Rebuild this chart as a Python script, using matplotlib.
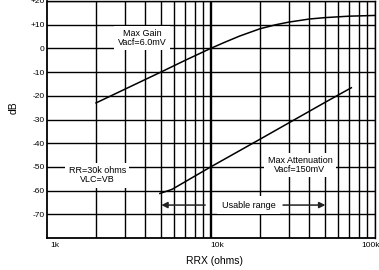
import matplotlib
matplotlib.use("Agg")
import matplotlib.pyplot as plt

plt.rcParams['font.family'] = ['Liberation Sans', 'DejaVu Sans']

# data (RRX in ohms, level in dB)
gain_rrx = [2e3, 3e3, 5e3, 7e3, 10e3, 12e3, 15e3, 20e3, 25e3, 30e3, 40e3, 50e3, 70e3, 100e3]
gain_db = [-23, -17.2, -9.9, -5.0, 0, 2.4, 5.2, 8.3, 10.0, 11.1, 12.4, 13.0, 13.6, 13.9]

att_rrx = [4.9e3, 5.8e3, 10e3, 20e3, 50e3, 72e3]
att_db = [-61.2, -59.5, -50, -38.3, -22.7, -16.6]

y_ticks = [20, 10, 0, -10, -20, -30, -40, -50, -60, -70]
y_labels = ["+20", "+10", "0", "-10", "-20", "-30", "-40", "-50", "-60", "-70"]
x_labels = ["1k", "10k", "100k"]
x_label_pos = [1.12e3, 10.9e3, 95e3]

usable_lo, usable_hi = 5e3, 50e3

fig = plt.figure(figsize=(3.79, 2.70), dpi=100)
ax = fig.add_axes([0.1232, 0.1185, 0.8655, 0.8778])
ax.set_xscale("log")
ax.set_xlim(1e3, 1e5)
ax.set_ylim(-80, 20)

# grid
minor_x = [m * d for d in (1e3, 1e4) for m in range(2, 10)]
for x in minor_x:
    ax.axvline(x, color="black", lw=1.0, zorder=1)
ax.axvline(1e4, color="black", lw=1.7, zorder=4)
ax.axvline(1e5, color="black", lw=1.0, zorder=1)
for y in range(-70, 21, 10):
    ax.axhline(y, color="black", lw=1.0, zorder=1)

# curves
ax.plot(gain_rrx, gain_db, color="black", lw=1.1, zorder=5)
ax.plot(att_rrx, att_db, color="black", lw=1.1, zorder=5)

box = dict(facecolor="white", edgecolor="none", pad=2.5)
ax.text(3.81e3, 4.4, "Max Gain\nVacf=6.0mV", ha="center", va="center",
        fontsize=6.5, linespacing=1.0, bbox=box, zorder=3)
ax.text(35e3, -49.2, "Max Attenuation\nVacf=150mV", ha="center", va="center",
        fontsize=6.5, linespacing=1.0, bbox=box, zorder=3)
ax.text(2.03e3, -53.6, "RR=30k ohms\nVLC=VB", ha="center", va="center",
        fontsize=6.5, linespacing=1.0, bbox=box, zorder=3)
ax.text(17e3, -66.1, "Usable range", ha="center", va="center",
        fontsize=6.5, bbox=dict(facecolor="white", edgecolor="none", pad=3), zorder=3)

arrow = dict(arrowstyle="-|>", color="#222222", lw=1.1, mutation_scale=9,
             shrinkA=0, shrinkB=0)
ax.annotate("", xy=(usable_lo, -66.1), xytext=(9.25e3, -66.1), arrowprops=arrow, zorder=6)
ax.annotate("", xy=(usable_hi, -66.1), xytext=(27.6e3, -66.1), arrowprops=arrow, zorder=6)

# ticks
ax.set_yticks(y_ticks)
ax.set_yticklabels(y_labels, fontsize=6)
ax.tick_params(axis="y", length=0, pad=1.5)
ax.set_xticks([])
ax.minorticks_off()
for x, lab in zip(x_label_pos, x_labels):
    ax.text(x, -0.03, lab, transform=ax.get_xaxis_transform(), ha="center",
            va="center", fontsize=6, clip_on=False)

ax.set_ylabel("dB", fontsize=7.5)
ax.yaxis.set_label_coords(-0.085, 0.55)
ax.text(10.6e3, -0.095, "RRX (ohms)", transform=ax.get_xaxis_transform(),
        ha="center", va="center", fontsize=7.5)

for s in ("left", "bottom"):
    ax.spines[s].set_linewidth(1.3)
for s in ("top", "right"):
    ax.spines[s].set_linewidth(1.0)

fig.savefig("out.png", dpi=100)
